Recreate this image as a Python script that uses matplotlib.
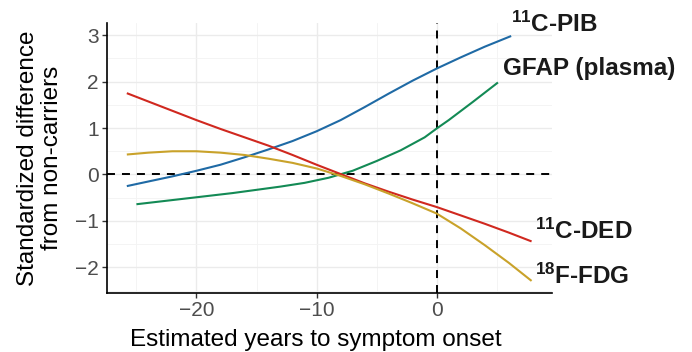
import matplotlib
matplotlib.use("Agg")
import matplotlib.pyplot as plt
from matplotlib.ticker import MultipleLocator

plt.rcParams["font.family"] = ["Liberation Sans", "DejaVu Sans"]
plt.rcParams["mathtext.fontset"] = "custom"
plt.rcParams["mathtext.bf"] = "Liberation Sans:bold"
plt.rcParams["mathtext.rm"] = "Liberation Sans:bold"
plt.rcParams["mathtext.default"] = "bf"

# Estimated years to symptom onset vs standardized difference from non-carriers
pib_x = [-25.8, -24, -22, -20, -18, -16, -14, -12, -10, -8, -6, -4, -2, 0, 2, 4, 6.2]
pib_y = [-0.25, -0.15, -0.04, 0.08, 0.21, 0.37, 0.54, 0.72, 0.93, 1.17, 1.45, 1.74, 2.02, 2.28, 2.52, 2.75, 2.98]

gfap_x = [-25, -23, -21, -19, -17, -15, -13, -11, -9, -7, -5, -3, -1, 0, 1, 3, 5.1]
gfap_y = [-0.64, -0.58, -0.52, -0.46, -0.40, -0.33, -0.26, -0.18, -0.07, 0.08, 0.29, 0.52, 0.80, 0.99, 1.17, 1.56, 1.98]

ded_x = [-25.8, -24, -22, -20, -18, -16, -14, -12, -10, -8, -6, -4, -2, 0, 2, 4, 6, 7.9]
ded_y = [1.75, 1.57, 1.37, 1.17, 0.98, 0.80, 0.62, 0.42, 0.21, 0.01, -0.19, -0.37, -0.54, -0.70, -0.88, -1.06, -1.25, -1.44]

fdg_x = [-25.8, -24, -22, -20, -18, -16, -14, -12, -10, -8, -6, -4, -2, 0, 2, 4, 6, 7.9]
fdg_y = [0.43, 0.47, 0.50, 0.50, 0.47, 0.42, 0.34, 0.25, 0.13, -0.03, -0.21, -0.41, -0.62, -0.84, -1.16, -1.52, -1.90, -2.29]

series = [
    ("$^{11}$C-PIB", pib_x, pib_y, "#1f6aa5", (6.19, 3.07)),
    ("GFAP (plasma)", gfap_x, gfap_y, "#138a55", (5.53, 2.14)),
    ("$^{11}$C-DED", ded_x, ded_y, "#d0281f", (8.19, -1.39)),
    ("$^{18}$F-FDG", fdg_x, fdg_y, "#c9a22a", (8.19, -2.35)),
]

fig = plt.figure(figsize=(6.92, 3.52), dpi=100)
ax = fig.add_axes([107 / 692, 1 - 293 / 352, 445 / 692, 270 / 352])

ax.set_xlim(-27.45, 9.6)
ax.set_ylim(-2.55, 3.26)

ax.xaxis.set_major_locator(MultipleLocator(10))
ax.xaxis.set_minor_locator(MultipleLocator(5))
ax.yaxis.set_major_locator(MultipleLocator(1))
ax.yaxis.set_minor_locator(MultipleLocator(0.5))
ax.grid(which="major", color="#ebebeb", linewidth=1.0)
ax.grid(which="minor", color="#f3f3f3", linewidth=0.6)
ax.set_axisbelow(True)

for s in ("top", "right"):
    ax.spines[s].set_visible(False)
for s in ("left", "bottom"):
    ax.spines[s].set_linewidth(1.2)
    ax.spines[s].set_color("black")

ax.tick_params(which="major", length=3.5, width=1.0, color="#333333",
               labelsize=15, labelcolor="#4d4d4d", pad=2.5)
ax.tick_params(which="minor", length=0)

dash = (0, (4.1, 3.6))
ax.axhline(0, color="black", linewidth=1.4, linestyle=dash, zorder=2)
ax.axvline(0, color="black", linewidth=1.4, linestyle=dash, zorder=2)

for label, xs, ys, color, (lx, ly) in series:
    ax.plot(xs, ys, color=color, linewidth=1.5, zorder=3, solid_capstyle="butt")
    ax.text(lx, ly, label, fontsize=17.5, fontweight="bold", color="#1a1a1a",
            ha="left", va="baseline", clip_on=False)

fig.text(40 / 692, 1 - 158 / 352, "Standardized difference\nfrom non-carriers",
         rotation=90, ha="center", va="center", fontsize=17.5, color="black",
         linespacing=1.15)
fig.text(316 / 692, 1 - 346 / 352, "Estimated years to symptom onset",
         ha="center", va="baseline", fontsize=17.5, color="black")

fig.savefig("out.png", dpi=100, facecolor="white")
